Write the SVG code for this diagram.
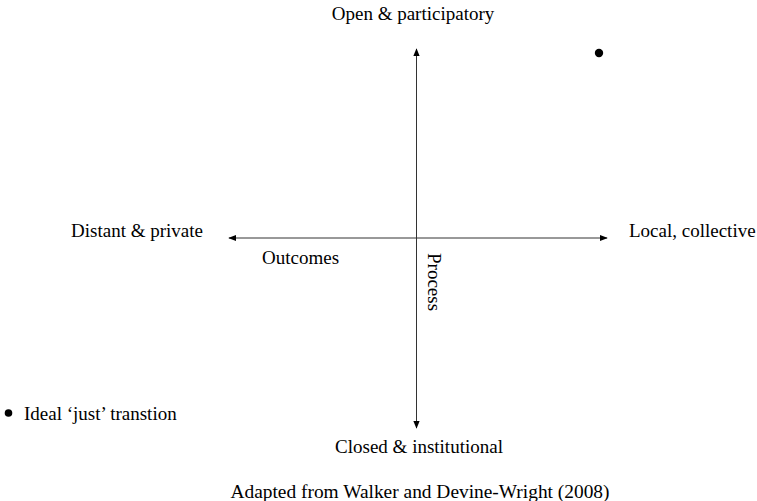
<svg xmlns="http://www.w3.org/2000/svg" width="757" height="501" viewBox="0 0 757 501">
<style>
text{font-family:"Liberation Serif","Times New Roman",serif;font-size:19px;fill:#000}
.cap{font-size:19.4px}
.ax{stroke:#333;stroke-width:1;fill:none}
</style>
<defs>
<marker id="ah" viewBox="0 0 10 10" refX="9" refY="5" markerWidth="8" markerHeight="8" markerUnits="userSpaceOnUse" orient="auto">
<path d="M0,1 L10,5 L0,9 Z" fill="#000"/>
</marker>
</defs>
<rect width="757" height="501" fill="#fff"/>
<g id="connectors">
<line class="ax" x1="416.5" y1="238" x2="416.5" y2="49" marker-end="url(#ah)"/>
<line class="ax" x1="416.5" y1="238" x2="416.5" y2="428" marker-end="url(#ah)"/>
<line class="ax" x1="416.5" y1="238" x2="229" y2="238" marker-end="url(#ah)"/>
<line class="ax" x1="416.5" y1="238" x2="607" y2="238" marker-end="url(#ah)"/>
</g>
<g id="top"><text x="413" y="20" text-anchor="middle">Open &amp; participatory</text></g>
<g id="bottom"><text x="419" y="453" text-anchor="middle">Closed &amp; institutional</text></g>
<g id="left"><text x="203" y="237" text-anchor="end">Distant &amp; private</text></g>
<g id="right"><text x="629" y="237">Local, collective</text></g>
<g id="outcomes"><text x="262" y="264">Outcomes</text></g>
<g id="process"><text transform="translate(428,253) rotate(90)">Process</text></g>
<g id="point"><circle cx="599" cy="53" r="4.2" fill="#000"/></g>
<g id="legend"><circle cx="8.5" cy="413" r="3.8" fill="#000"/><text x="24" y="420">Ideal ‘just’ transtion</text></g>
<g id="caption"><text class="cap" x="420" y="498" text-anchor="middle">Adapted from Walker and Devine-Wright (2008)</text></g>
</svg>
